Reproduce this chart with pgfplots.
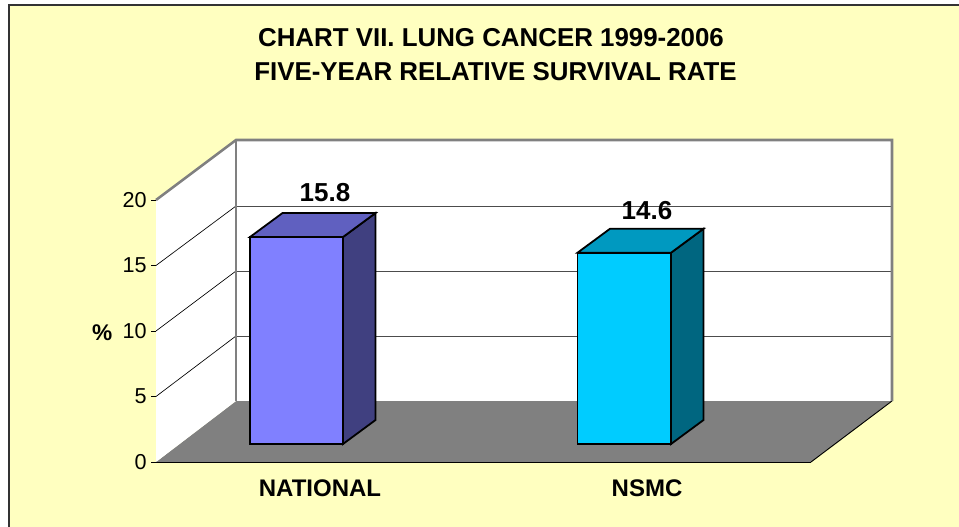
\documentclass[border=0pt]{standalone}
\usepackage{pgfplots}
\pgfplotsset{compat=1.18}
\usepackage{fontspec}
\setmainfont{Liberation Sans}
\definecolor{chartbg}{RGB}{255,255,192}
\definecolor{wallgray}{RGB}{128,128,128}
\definecolor{barA}{RGB}{128,128,255}
\definecolor{barAtop}{RGB}{96,96,192}
\definecolor{barAside}{RGB}{64,64,128}
\definecolor{barB}{RGB}{0,204,255}
\definecolor{barBtop}{RGB}{0,153,192}
\definecolor{barBside}{RGB}{0,102,128}
% one reference pixel is 0.75pt; x data are reference pixels, y data are %
\begin{document}
\begin{tikzpicture}
\path[use as bounding box] (0,0) rectangle (719.25pt,395.25pt);
\begin{scope}
\clip (0,0) rectangle (719.25pt,395.25pt);
\fill[white] (0,0) rectangle (719.25pt,395.25pt);
\draw[fill=chartbg,draw=black!80,line width=0.9pt] (6.75pt,-20pt) rectangle (740pt,391.5pt);
\end{scope}
\begin{axis}[
  at={(117pt,48.75pt)}, anchor=south west,
  scale only axis, width=491.25pt, height=196.5pt,
  xmin=156, xmax=811, ymin=0, ymax=20,
  clip=false,
  axis lines=left,
  axis line style={-,black,line width=0.7pt},
  tick style={black,line width=0.7pt},
  tick align=outside,
  major tick length=3.5pt,
  ytick={0,5,10,15,20},
  xtick={320,647},
  xticklabels={NATIONAL,NSMC},
  x tick style={draw=none},
  extra x ticks={156,484,811},
  extra x tick labels={},
  extra x tick style={tick style={black!70,line width=0.7pt}},
  /pgf/number format/assume math mode=true,
  yticklabel style={font=\fontsize{16.2}{18}\selectfont,xshift=0pt},
  xticklabel style={font=\fontsize{18}{20}\selectfont\bfseries,yshift=-6pt},
  ylabel={\fontsize{17}{20}\selectfont\bfseries\%},
  ylabel style={rotate=-90,at={(axis description cs:-0.082,0.495)},anchor=center},
]
% floor
\addplot[fill=wallgray,draw=none] coordinates {(156,0) (811,0) (892,4.656) (236,4.656)} -- cycle;
\addplot[black,line width=0.7pt] coordinates {(811,0) (892,4.656)};
% walls
\addplot[fill=white,draw=none] coordinates {(156,0) (156,20) (236,24.58) (236,4.656)} -- cycle;
\addplot[fill=white,draw=none] coordinates {(236,4.656) (236,24.58) (892,24.58) (892,4.656)} -- cycle;
% side wall gridlines
\addplot[black,line width=0.5pt] coordinates {(156,5) (236,9.62)};
\addplot[black,line width=0.5pt] coordinates {(156,10) (236,14.58)};
\addplot[black,line width=0.5pt] coordinates {(156,15) (236,19.54)};
% back wall gridlines
\addplot[black!70,line width=0.7pt] coordinates {(236,9.62) (892,9.62)};
\addplot[black!70,line width=0.7pt] coordinates {(236,14.58) (892,14.58)};
\addplot[black!70,line width=0.7pt] coordinates {(236,19.54) (892,19.54)};
% wall edges
\addplot[wallgray,line width=1.9pt] coordinates {(156,20) (236,24.58) (892,24.58) (892,4.656)};
\addplot[wallgray,line width=1.9pt] coordinates {(236,24.58) (236,4.656)};
% NATIONAL
\addplot[fill=barAside,draw=black,line width=1.35pt,line join=miter,yshift=13.5pt] coordinates {(343,0) (375.5,1.83) (375.5,17.63) (343,15.8)} -- cycle;
\addplot[fill=barAtop,draw=black,line width=1.35pt,line join=miter,yshift=13.5pt] coordinates {(250,15.8) (282.5,17.63) (375.5,17.63) (343,15.8)} -- cycle;
\addplot[ybar,bar width=69.75pt,bar shift=0pt,fill=barA,draw=black,line width=1.35pt,yshift=13.5pt,
  nodes near coords,
  every node near coord/.append style={font=\fontsize{19.5}{21}\selectfont\bfseries,anchor=center,xshift=21.4pt,yshift=33pt,black},
  /pgf/number format/assume math mode=true,
  /pgf/number format/.cd,fixed,fixed zerofill,precision=1] coordinates {(296.5,15.8)};
% NSMC
\addplot[fill=barBside,draw=black,line width=1.35pt,line join=miter,yshift=13.5pt] coordinates {(671,0) (703.5,1.83) (703.5,16.43) (671,14.6)} -- cycle;
\addplot[fill=barBtop,draw=black,line width=1.35pt,line join=miter,yshift=13.5pt] coordinates {(577.5,14.6) (610,16.43) (703.5,16.43) (671,14.6)} -- cycle;
\addplot[ybar,bar width=70.1pt,bar shift=0pt,fill=barB,draw=black,line width=1.35pt,yshift=13.5pt,
  nodes near coords,
  every node near coord/.append style={font=\fontsize{19.5}{21}\selectfont\bfseries,anchor=center,xshift=17pt,yshift=31.5pt,black},
  /pgf/number format/assume math mode=true,
  /pgf/number format/.cd,fixed,fixed zerofill,precision=1] coordinates {(624.25,14.6)};
\end{axis}
\node[anchor=base,font=\fontsize{19.4}{21}\selectfont\bfseries,inner sep=0pt] at (368.25pt,360.4pt) {CHART VII. LUNG CANCER 1999-2006};
\node[anchor=base,font=\fontsize{19.4}{21}\selectfont\bfseries,inner sep=0pt] at (371.6pt,334.5pt) {FIVE-YEAR RELATIVE SURVIVAL RATE};
\end{tikzpicture}
\end{document}
